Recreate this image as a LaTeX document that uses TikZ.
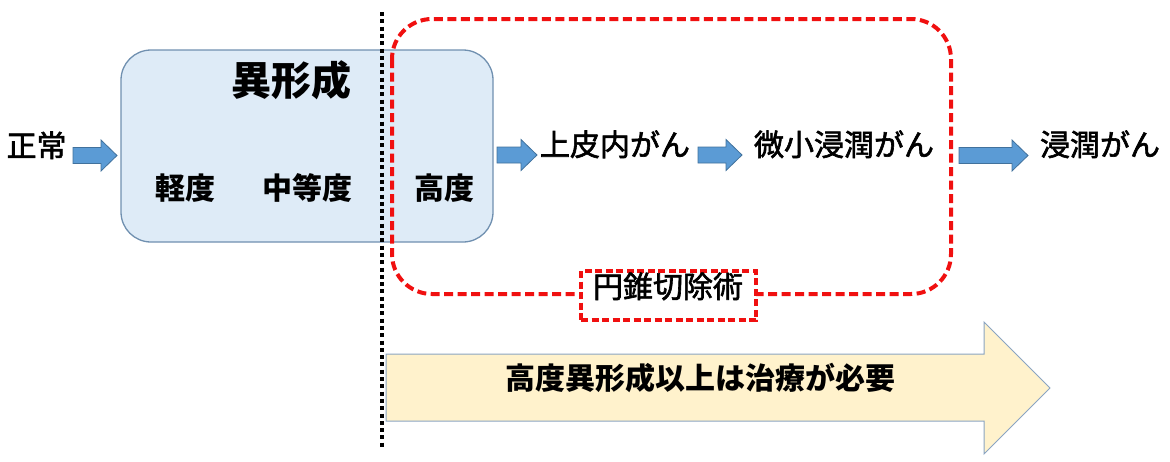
\documentclass[tikz,border=0pt]{standalone}
\usepackage{fontspec}
\setmainfont{Noto Sans CJK JP}
\newfontfamily\jmed{Noto Sans CJK JP}[FakeBold=2]
\usetikzlibrary{positioning}
\definecolor{arrowblue}{HTML}{5B9BD5}
\definecolor{arrowblueedge}{HTML}{41719C}
\definecolor{boxfill}{HTML}{DEEBF7}
\definecolor{boxedge}{HTML}{7090B0}
\definecolor{yellowfill}{HTML}{FFF2CC}
\definecolor{yellowedge}{HTML}{8AA4C2}
\definecolor{cutred}{HTML}{F01010}
\tikzset{
  jtext/.style={inner sep=0pt, text height=0.8em, text depth=0.05em, font=\fontsize{30}{32}\selectfont\jmed},
  jbold/.style={jtext, font=\fontsize{30}{32}\selectfont\bfseries},
  blockarrow/.style={fill=arrowblue, draw=arrowblueedge, line width=0.8pt},
  reddash/.style={draw=cutred, line width=4pt, dash pattern=on 9pt off 4.5pt},
}
\newcommand{\barrow}[3]{% x1, x2, y
  \draw[blockarrow] (#1,#3-8) -- (#2-16,#3-8) -- (#2-16,#3-15.5) -- (#2,#3) -- (#2-16,#3+15.5) -- (#2-16,#3+8) -- (#1,#3+8) -- cycle;}
\begin{document}
\begin{tikzpicture}[x=1pt,y=-1pt]
\useasboundingbox (0,0) rectangle (1170,461);
% dysplasia box
\draw[fill=boxfill, draw=boxedge, line width=1.3pt, rounded corners=30pt] (121,50) rectangle (493,242);
% yellow arrow
\draw[fill=yellowfill, draw=yellowedge, line width=1pt] (386,354) -- (984,354) -- (984,322) -- (1050,388) -- (984,454) -- (984,421) -- (386,421) -- cycle;
% red dashed region
\draw[reddash, rounded corners=40pt] (392,19) rectangle (951,294);
% dotted separator
\coordinate (dtop) at (382,12);
\coordinate (dbot) at (382,449);
\draw[black, line width=4pt, dash pattern=on 4pt off 3.3pt] (dtop) -- (dbot);
% label box
\node[draw=cutred, fill=white, line width=3.5pt, dash pattern=on 7pt off 3.5pt, minimum width=175pt, minimum height=49pt, inner sep=0pt] (cone) at (668.5,295.5) {};
\node[jtext] (conet) at (668,294) {円錐切除術};
% texts
\node[jtext] (normal) at (36.5,153) {正常};
\node[jbold, font=\fontsize{40}{42}\selectfont\bfseries] (dys) at (291,92) {異形成};
\node[jbold] (mild) at (185,196) {軽度};
\node[jbold] (mod) at (307,196) {中等度};
\node[jbold] (sev) at (444,196) {高度};
\node[jtext] (cis) at (615,152) {上皮内がん};
\node[jtext] (micro) at (844,152) {微小浸潤がん};
\node[jtext] (inv) at (1100,152) {浸潤がん};
\node[jbold] (need) at (700,386) {高度異形成以上は治療が必要};
% block arrows
\barrow{73}{117}{155.5}
\barrow{497}{537}{155}
\barrow{698}{742}{155}
\barrow{959}{1028}{155.5}
\end{tikzpicture}
\end{document}
